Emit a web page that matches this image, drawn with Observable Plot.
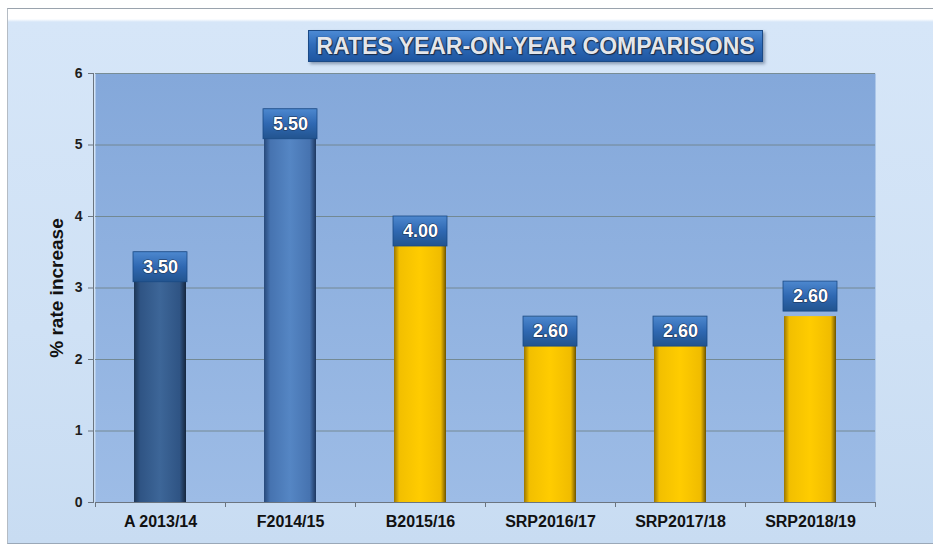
<!DOCTYPE html>
<html>
<head>
<meta charset="utf-8">
<script src="https://cdn.jsdelivr.net/npm/d3@7"></script>
<script src="https://cdn.jsdelivr.net/npm/@observablehq/plot@0.6"></script>
<style>
  html, body { margin: 0; padding: 0; background: #fff; }
  #wrap { position: relative; width: 933px; height: 548px; overflow: hidden; }
  #panel { position: absolute; left: 7px; top: 8px; width: 926px; height: 534px;
    border-top: 1px solid #9aa3ad; border-left: 1px solid #b5bcc4; border-bottom: 1px solid #9aa8b8;
    background: linear-gradient(to bottom, #ffffff 0px, #ffffff 10px, #d6e6f8 13px, #cfe1f5 60%, #c8dcf2 100%); }
  #chart { position: absolute; left: 0; top: 0; }
  #title { position: absolute; left: 308px; top: 30px; width: 455px; height: 32px;
    background: linear-gradient(to bottom, #4c8ad4 0%, #2f6cba 45%, #1f56a0 100%);
    border: 1px solid #1b4a86; box-shadow: 2px 2px 3px rgba(40,60,90,0.45);
    color: #e4e6ea; font: bold 23px "Liberation Sans", Arial, sans-serif;
    text-align: center; line-height: 31px; letter-spacing: 0px;
    text-shadow: 1px 1px 1px #1a2a44, -1px 0 1px #1a2a44; box-sizing: border-box; white-space: nowrap; }
</style>
</head>
<body>
<div id="wrap">
  <div id="panel"></div>
  <div id="chart"></div>
  <div id="title">RATES YEAR-ON-YEAR COMPARISONS</div>
</div>
<script>
const categories = ["A 2013/14", "F2014/15", "B2015/16", "SRP2016/17", "SRP2017/18", "SRP2018/19"];
const values = [3.50, 5.50, 4.00, 2.60, 2.60, 2.60];
const groups = ["actual", "final", "budget", "srp", "srp", "srp"];
const yTicks = [0, 1, 2, 3, 4, 5, 6];
const gridTicks = [1, 2, 3, 4, 5, 6];

const data = categories.map((c, i) => ({category: c, value: values[i], group: groups[i], index: i}));
const gradId = {actual: "gActual", final: "gFinal", budget: "gYellow", srp: "gYellow"};

const defs = () => {
  const g = d3.create("svg:defs");
  g.html(`
    <linearGradient id="gPlot" x1="0" y1="0" x2="0" y2="1">
      <stop offset="0" stop-color="#84a8da"/>
      <stop offset="1" stop-color="#9dbce6"/>
    </linearGradient>
    <linearGradient id="gActual" x1="0" y1="0" x2="1" y2="0">
      <stop offset="0" stop-color="#1d3656"/>
      <stop offset="0.12" stop-color="#2f5484"/>
      <stop offset="0.5" stop-color="#3d6698"/>
      <stop offset="0.88" stop-color="#2f5484"/>
      <stop offset="1" stop-color="#15263e"/>
    </linearGradient>
    <linearGradient id="gFinal" x1="0" y1="0" x2="1" y2="0">
      <stop offset="0" stop-color="#27497a"/>
      <stop offset="0.12" stop-color="#4673b0"/>
      <stop offset="0.5" stop-color="#5586c4"/>
      <stop offset="0.88" stop-color="#4673b0"/>
      <stop offset="1" stop-color="#1d3760"/>
    </linearGradient>
    <linearGradient id="gYellow" x1="0" y1="0" x2="1" y2="0">
      <stop offset="0" stop-color="#9a7600"/>
      <stop offset="0.1" stop-color="#f2bf00"/>
      <stop offset="0.5" stop-color="#ffcc00"/>
      <stop offset="0.9" stop-color="#f0bc00"/>
      <stop offset="1" stop-color="#6e5400"/>
    </linearGradient>
    <linearGradient id="gLabel" x1="0" y1="0" x2="0" y2="1">
      <stop offset="0" stop-color="#4d88cf"/>
      <stop offset="0.5" stop-color="#2f68b2"/>
      <stop offset="1" stop-color="#22548f"/>
    </linearGradient>
  `);
  return g.node();
};

const barsFor = (grp) => Plot.barY(data.filter(d => gradId[d.group] === grp), {
  x: "category", y: "value", fill: `url(#${grp})`
});

const labelFont = {fill: "#ffffff", fontSize: 18, fontWeight: "bold", fontFamily: "Liberation Sans, Arial, sans-serif",
  stroke: "#1b3050", strokeWidth: 1.2, paintOrder: "stroke", lineAnchor: "middle"};

const inside = data.filter(d => d.index !== 5);
const above = data.filter(d => d.index === 5);

const chart = Plot.plot({
  width: 933,
  height: 548,
  marginLeft: 95,
  marginRight: 58,
  marginTop: 73,
  marginBottom: 46,
  style: {background: "transparent", overflow: "visible"},
  x: {domain: categories, paddingInner: 0.6, paddingOuter: 0.3, label: null},
  y: {domain: [0, 6], label: null},
  marks: [
    defs,
    Plot.frame({fill: "url(#gPlot)"}),
    Plot.ruleY(gridTicks, {stroke: "#6f8386", strokeWidth: 1, strokeOpacity: 0.85}),
    barsFor("gActual"),
    barsFor("gFinal"),
    barsFor("gYellow"),
    Plot.barY(inside, {x: "category", y1: "value", y2: "value", insetBottom: -30, insetLeft: -1, insetRight: -1,
      fill: "url(#gLabel)", stroke: "#1a4a85", strokeWidth: 0.8}),
    Plot.barY(above, {x: "category", y1: "value", y2: "value", insetBottom: -30, insetLeft: -1, insetRight: -1, dy: -35,
      fill: "url(#gLabel)", stroke: "#1a4a85", strokeWidth: 0.8}),
    Plot.text(inside, {x: "category", y: "value", text: d => d.value.toFixed(2), dy: 15, ...labelFont}),
    Plot.text(above, {x: "category", y: "value", text: d => d.value.toFixed(2), dy: -20, ...labelFont}),
    Plot.ruleY([0], {stroke: "#6b7580", strokeWidth: 1}),
    Plot.ruleX(categories, {x: d => d, y1: 0, y2: 0, insetBottom: -5, dx: -65, stroke: "#6b7580"}),
    Plot.ruleX(categories.slice(-1), {x: d => d, y1: 0, y2: 0, insetBottom: -5, dx: 65, stroke: "#6b7580"}),
    Plot.frame({anchor: "left", stroke: "#6b7580", dx: -2}),
    Plot.axisY({ticks: yTicks, tickSize: 5, tickPadding: 6, dx: -2, tickFormat: d3.format("d"),
      fontSize: 14, fontWeight: "bold", fontFamily: "Liberation Sans, Arial, sans-serif", color: "#1e1e1e", stroke: "#6b7580", label: null}),
    Plot.axisY({ticks: [], label: "% rate increase", labelAnchor: "center", labelArrow: "none", labelOffset: 46,
      fontSize: 19, fontWeight: "bold", fontFamily: "Liberation Sans, Arial, sans-serif", color: "#111"}),
    Plot.axisX({tickSize: 0, tickPadding: 13, fontSize: 16, fontWeight: "bold",
      fontFamily: "Liberation Sans Narrow, Arial Narrow, sans-serif", color: "#111", label: null})
  ]
});
document.getElementById("chart").appendChild(chart);
</script>
</body>
</html>
